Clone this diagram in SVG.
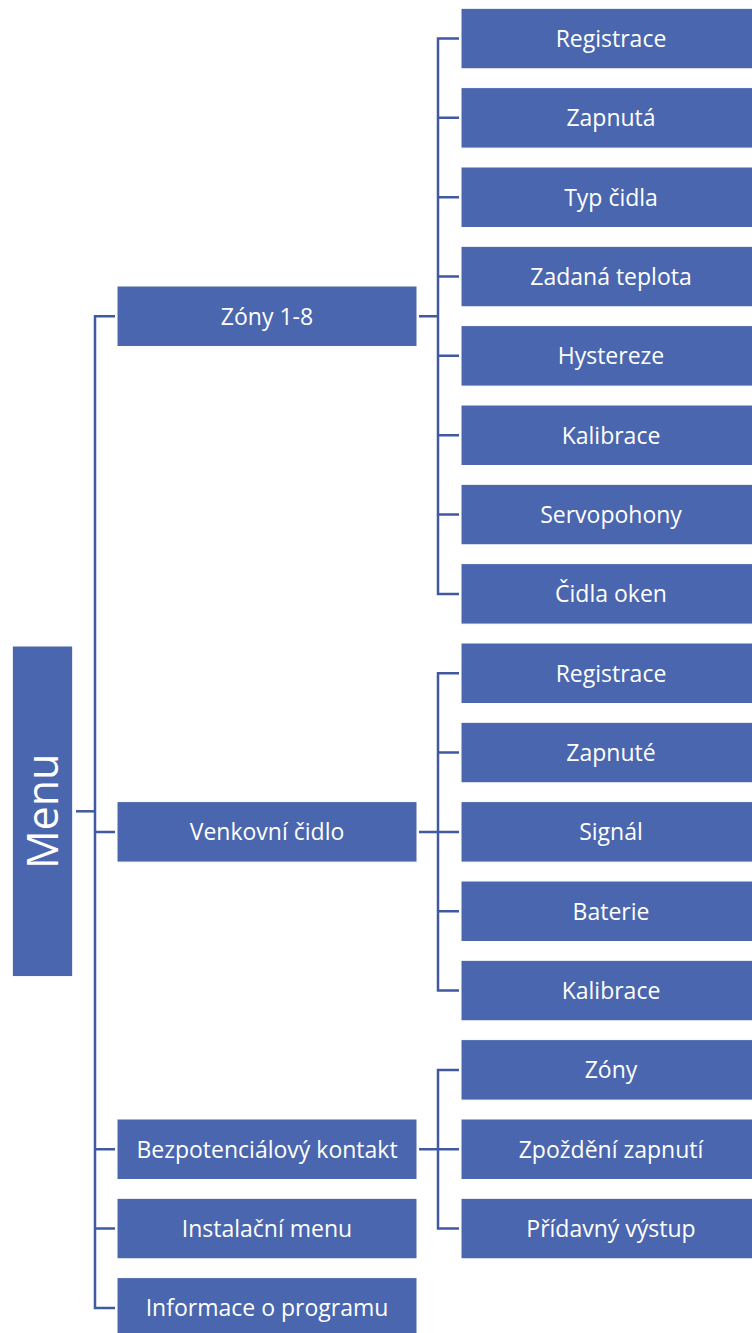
<svg xmlns="http://www.w3.org/2000/svg" width="752" height="1333" viewBox="0 0 752 1333">
<style>
.box{fill:#4a66ae;stroke:#ffffff;stroke-width:1}
.t{fill:#ffffff;font-family:"Open Sans","Liberation Sans",sans-serif;font-size:23px;text-anchor:middle}
.menu{fill:#ffffff;font-family:"Open Sans","Liberation Sans",sans-serif;font-size:43px;text-anchor:middle}
.c{fill:none;stroke:#4059a0;stroke-width:2.5;stroke-linejoin:miter}
</style>
<rect width="752" height="1333" fill="#ffffff"/>
<g id="connectors">
<path class="c" d="M76 811.3 H95"/>
<path class="c" d="M115 316.2 H95 V1307.9 H115 M95 831.9 H115 M95 1149.2 H115 M95 1228.5 H115"/>
<path class="c" d="M419 316.2 H438 M459 38.5 H438 V593.9 H459 M438 117.8 H459 M438 197.2 H459 M438 276.5 H459 M438 355.8 H459 M438 435.2 H459 M438 514.5 H459"/>
<path class="c" d="M419 831.9 H438 M459 673.2 H438 V990.5 H459 M438 752.5 H459 M438 831.9 H459 M438 911.2 H459"/>
<path class="c" d="M419 1149.2 H438 M459 1069.9 H438 V1228.5 H459 M438 1149.2 H459"/>
</g>
<g id="menu"><rect class="box" x="12.3" y="646" width="60.4" height="330.6"/><text class="menu" transform="translate(57.5 811.3) rotate(-90)" x="0" y="0">Menu</text></g>
<g id="zony"><rect class="box" x="117" y="286" width="300" height="60.5"/><text class="t" x="267" y="324.5">Zóny 1-8</text></g>
<g id="venkovni"><rect class="box" x="117" y="801.6" width="300" height="60.5"/><text class="t" x="267" y="840.2">Venkovní čidlo</text></g>
<g id="bezpot"><rect class="box" x="117" y="1119" width="300" height="60.5"/><text class="t" x="267" y="1157.5">Bezpotenciálový kontakt</text></g>
<g id="instal"><rect class="box" x="117" y="1198.3" width="300" height="60.5"/><text class="t" x="267" y="1236.8">Instalační menu</text></g>
<g id="info"><rect class="box" x="117" y="1277.6" width="300" height="60.5"/><text class="t" x="267" y="1316.2">Informace o programu</text></g>
<g id="z-registrace"><rect class="box" x="461" y="8.3" width="300" height="60.5"/><text class="t" x="611" y="46.8">Registrace</text></g>
<g id="z-zapnuta"><rect class="box" x="461" y="87.6" width="300" height="60.5"/><text class="t" x="611" y="126.1">Zapnutá</text></g>
<g id="z-typ"><rect class="box" x="461" y="167" width="300" height="60.5"/><text class="t" x="611" y="205.5">Typ čidla</text></g>
<g id="z-zadana"><rect class="box" x="461" y="246.3" width="300" height="60.5"/><text class="t" x="611" y="284.8">Zadaná teplota</text></g>
<g id="z-hystereze"><rect class="box" x="461" y="325.6" width="300" height="60.5"/><text class="t" x="611" y="364.1">Hystereze</text></g>
<g id="z-kalibrace"><rect class="box" x="461" y="405" width="300" height="60.5"/><text class="t" x="611" y="443.5">Kalibrace</text></g>
<g id="z-servo"><rect class="box" x="461" y="484.3" width="300" height="60.5"/><text class="t" x="611" y="522.8">Servopohony</text></g>
<g id="z-okna"><rect class="box" x="461" y="563.6" width="300" height="60.5"/><text class="t" x="611" y="602.1">Čidla oken</text></g>
<g id="v-registrace"><rect class="box" x="461" y="643" width="300" height="60.5"/><text class="t" x="611" y="681.5">Registrace</text></g>
<g id="v-zapnute"><rect class="box" x="461" y="722.3" width="300" height="60.5"/><text class="t" x="611" y="760.8">Zapnuté</text></g>
<g id="v-signal"><rect class="box" x="461" y="801.6" width="300" height="60.5"/><text class="t" x="611" y="840.1">Signál</text></g>
<g id="v-baterie"><rect class="box" x="461" y="881" width="300" height="60.5"/><text class="t" x="611" y="919.5">Baterie</text></g>
<g id="v-kalibrace"><rect class="box" x="461" y="960.3" width="300" height="60.5"/><text class="t" x="611" y="998.8">Kalibrace</text></g>
<g id="b-zony"><rect class="box" x="461" y="1039.6" width="300" height="60.5"/><text class="t" x="611" y="1078.1">Zóny</text></g>
<g id="b-zpozdeni"><rect class="box" x="461" y="1119" width="300" height="60.5"/><text class="t" x="611" y="1157.5">Zpoždění zapnutí</text></g>
<g id="b-pridavny"><rect class="box" x="461" y="1198.3" width="300" height="60.5"/><text class="t" x="611" y="1236.8">Přídavný výstup</text></g>
</svg>
